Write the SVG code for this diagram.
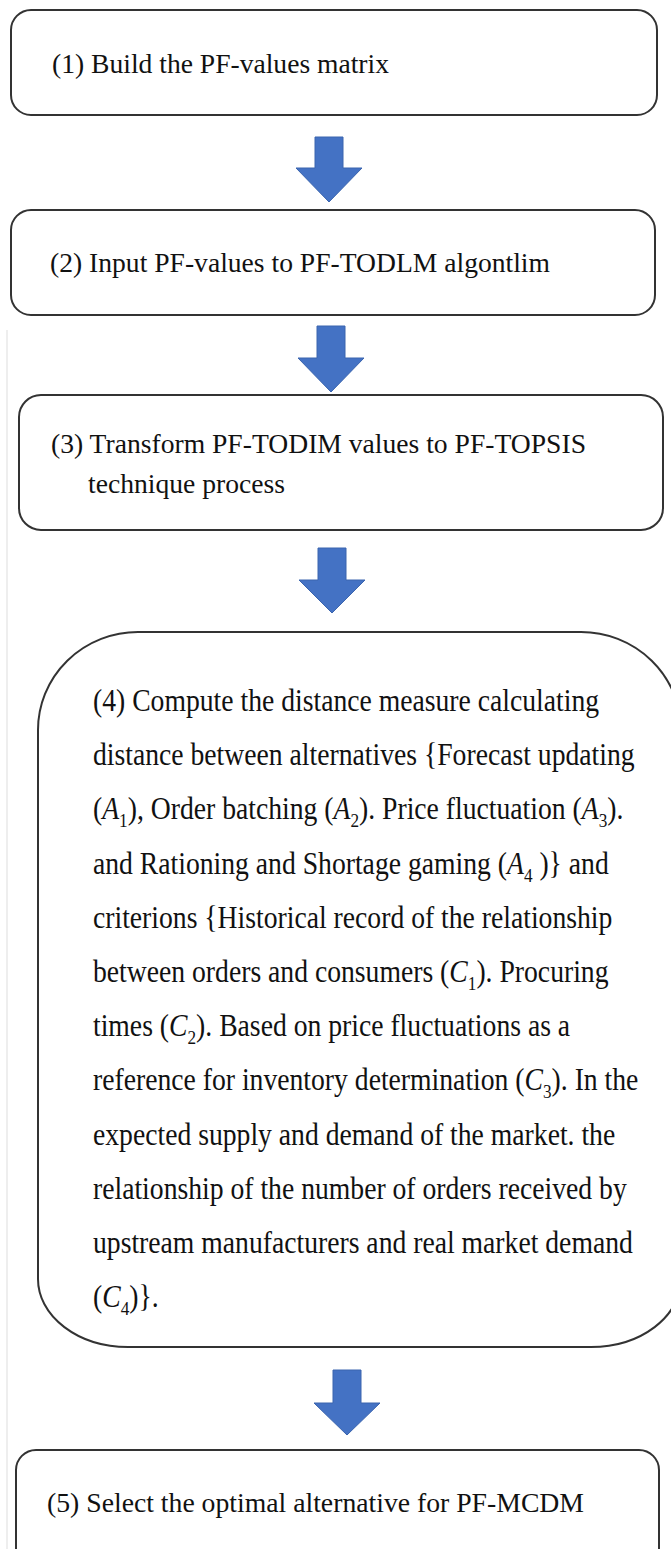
<svg xmlns="http://www.w3.org/2000/svg" width="671" height="1549" viewBox="0 0 671 1549">
  <style>
    .box { fill: #ffffff; stroke: #333333; stroke-width: 2; }
    .lbl { font-family: "Liberation Serif", "Times New Roman", serif; font-size: 27px; fill: #111111; }
    .body { font-family: "Liberation Serif", "Times New Roman", serif; font-size: 30.5px; fill: #111111; }
    .it { font-style: italic; }
    .sub { font-size: 19px; }
    .arrow { fill: #4472C4; stroke: #3A64AE; stroke-width: 1; }
  </style>
  <rect x="0" y="0" width="671" height="1549" fill="#ffffff"/>
  <!-- faint page edge -->
  <line x1="7" y1="330" x2="7" y2="1549" stroke="#e8e8e8" stroke-width="1.5"/>

  <g id="connectors">
    <path class="arrow" d="M315 137 H343 V168 H362 L329 202 L296 168 H315 Z"/>
    <path class="arrow" d="M317 326 H345 V358 H364 L331 392 L298 358 H317 Z"/>
    <path class="arrow" d="M318 548 H346 V580 H365 L332 613 L299 580 H318 Z"/>
    <path class="arrow" d="M333 1370 H361 V1403 H380 L347 1435 L314 1403 H333 Z"/>
  </g>

  <g id="step1">
    <rect class="box" x="11" y="10" width="646" height="105" rx="20" ry="20"/>
    <text class="lbl" x="52" y="73" textLength="337" lengthAdjust="spacingAndGlyphs">(1) Build the PF-values matrix</text>
  </g>

  <g id="step2">
    <rect class="box" x="11" y="210" width="644" height="105" rx="20" ry="20"/>
    <text class="lbl" x="50" y="272" textLength="500" lengthAdjust="spacingAndGlyphs">(2) Input PF-values to PF-TODLM algontlim</text>
  </g>

  <g id="step3">
    <rect class="box" x="19" y="395" width="644" height="135" rx="22" ry="22"/>
    <text class="lbl" x="51" y="453" textLength="535" lengthAdjust="spacingAndGlyphs">(3) Transform PF-TODIM values to PF-TOPSIS</text>
    <text class="lbl" x="88" y="493" textLength="197" lengthAdjust="spacingAndGlyphs">technique process</text>
  </g>

  <g id="step4">
    <path class="box" d="M138 632 H581 A100 98 0 0 1 681 730 V1279 A90 68 0 0 1 591 1347 H128 A90 68 0 0 1 38 1279 V730 A100 98 0 0 1 138 632 Z"/>
    <!-- body text is set slightly condensed -->
    <g transform="translate(8.65,0) scale(0.907,1)">
      <text class="body" x="93" y="711">(4) Compute the distance measure calculating</text>
      <text class="body" x="93" y="765.2">distance between alternatives {Forecast updating</text>
      <text class="body" x="93" y="819.4">(<tspan class="it">A</tspan><tspan class="sub" dy="8">1</tspan><tspan dy="-8">), Order batching (</tspan><tspan class="it">A</tspan><tspan class="sub" dy="8">2</tspan><tspan dy="-8">). Price fluctuation (</tspan><tspan class="it">A</tspan><tspan class="sub" dy="8">3</tspan><tspan dy="-8">).</tspan></text>
      <text class="body" x="93" y="873.6">and Rationing and Shortage gaming (<tspan class="it">A</tspan><tspan class="sub" dy="8">4</tspan><tspan dy="-8"> )} and</tspan></text>
      <text class="body" x="93" y="927.8">criterions {Historical record of the relationship</text>
      <text class="body" x="93" y="982">between orders and consumers (<tspan class="it">C</tspan><tspan class="sub" dy="8">1</tspan><tspan dy="-8">). Procuring</tspan></text>
      <text class="body" x="93" y="1036.2">times (<tspan class="it">C</tspan><tspan class="sub" dy="8">2</tspan><tspan dy="-8">). Based on price fluctuations as a</tspan></text>
      <text class="body" x="93" y="1090.4">reference for inventory determination (<tspan class="it">C</tspan><tspan class="sub" dy="8">3</tspan><tspan dy="-8">). In the</tspan></text>
      <text class="body" x="93" y="1144.6">expected supply and demand of the market. the</text>
      <text class="body" x="93" y="1198.8">relationship of the number of orders received by</text>
      <text class="body" x="93" y="1253">upstream manufacturers and real market demand</text>
      <text class="body" x="93" y="1307.2">(<tspan class="it">C</tspan><tspan class="sub" dy="8">4</tspan><tspan dy="-8">)}.</tspan></text>
    </g>
  </g>

  <g id="step5">
    <rect class="box" x="16" y="1450" width="643" height="140" rx="20" ry="20"/>
    <text class="lbl" x="47" y="1512" textLength="537" lengthAdjust="spacingAndGlyphs">(5) Select the optimal alternative for PF-MCDM</text>
  </g>
</svg>
